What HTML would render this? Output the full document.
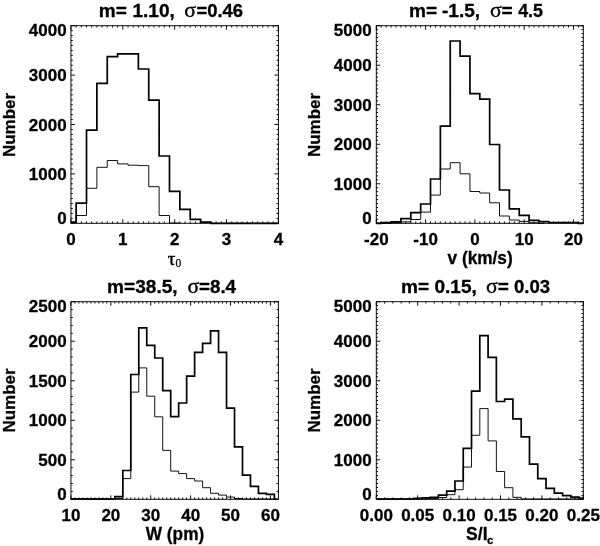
<!DOCTYPE html>
<html>
<head>
<meta charset="utf-8">
<title>Histograms</title>
<style>
html,body{margin:0;padding:0;background:#fff;}
body{width:600px;height:546px;overflow:hidden;font-family:"Liberation Sans",sans-serif;}
svg{display:block;will-change:transform;}
</style>
</head>
<body>
<svg width="600" height="546" viewBox="0 0 600 546">
<rect x="0" y="0" width="600" height="546" fill="#fff"/>
<rect x="70.95" y="25.7" width="207.45" height="197.6" fill="none" stroke="#000" stroke-width="0.95"/>
<path d="M70.95 223.3v-3.95M70.95 25.7v3.95M122.81 223.3v-3.95M122.81 25.7v3.95M174.68 223.3v-3.95M174.68 25.7v3.95M226.54 223.3v-3.95M226.54 25.7v3.95M278.4 223.3v-3.95M278.4 25.7v3.95M76.14 223.3v-1.85M76.14 25.7v1.85M81.32 223.3v-1.85M81.32 25.7v1.85M86.51 223.3v-1.85M86.51 25.7v1.85M91.7 223.3v-1.85M91.7 25.7v1.85M96.88 223.3v-1.85M96.88 25.7v1.85M102.07 223.3v-1.85M102.07 25.7v1.85M107.25 223.3v-1.85M107.25 25.7v1.85M112.44 223.3v-1.85M112.44 25.7v1.85M117.63 223.3v-1.85M117.63 25.7v1.85M128 223.3v-1.85M128 25.7v1.85M133.19 223.3v-1.85M133.19 25.7v1.85M138.37 223.3v-1.85M138.37 25.7v1.85M143.56 223.3v-1.85M143.56 25.7v1.85M148.74 223.3v-1.85M148.74 25.7v1.85M153.93 223.3v-1.85M153.93 25.7v1.85M159.12 223.3v-1.85M159.12 25.7v1.85M164.3 223.3v-1.85M164.3 25.7v1.85M169.49 223.3v-1.85M169.49 25.7v1.85M179.86 223.3v-1.85M179.86 25.7v1.85M185.05 223.3v-1.85M185.05 25.7v1.85M190.23 223.3v-1.85M190.23 25.7v1.85M195.42 223.3v-1.85M195.42 25.7v1.85M200.61 223.3v-1.85M200.61 25.7v1.85M205.79 223.3v-1.85M205.79 25.7v1.85M210.98 223.3v-1.85M210.98 25.7v1.85M216.16 223.3v-1.85M216.16 25.7v1.85M221.35 223.3v-1.85M221.35 25.7v1.85M231.72 223.3v-1.85M231.72 25.7v1.85M236.91 223.3v-1.85M236.91 25.7v1.85M242.1 223.3v-1.85M242.1 25.7v1.85M247.28 223.3v-1.85M247.28 25.7v1.85M252.47 223.3v-1.85M252.47 25.7v1.85M257.65 223.3v-1.85M257.65 25.7v1.85M262.84 223.3v-1.85M262.84 25.7v1.85M268.03 223.3v-1.85M268.03 25.7v1.85M273.21 223.3v-1.85M273.21 25.7v1.85M70.95 223.3h3.95M278.4 223.3h-3.95M70.95 173.9h3.95M278.4 173.9h-3.95M70.95 124.5h3.95M278.4 124.5h-3.95M70.95 75.1h3.95M278.4 75.1h-3.95M70.95 25.7h3.95M278.4 25.7h-3.95M70.95 218.36h1.85M278.4 218.36h-1.85M70.95 213.42h1.85M278.4 213.42h-1.85M70.95 208.48h1.85M278.4 208.48h-1.85M70.95 203.54h1.85M278.4 203.54h-1.85M70.95 198.6h1.85M278.4 198.6h-1.85M70.95 193.66h1.85M278.4 193.66h-1.85M70.95 188.72h1.85M278.4 188.72h-1.85M70.95 183.78h1.85M278.4 183.78h-1.85M70.95 178.84h1.85M278.4 178.84h-1.85M70.95 168.96h1.85M278.4 168.96h-1.85M70.95 164.02h1.85M278.4 164.02h-1.85M70.95 159.08h1.85M278.4 159.08h-1.85M70.95 154.14h1.85M278.4 154.14h-1.85M70.95 149.2h1.85M278.4 149.2h-1.85M70.95 144.26h1.85M278.4 144.26h-1.85M70.95 139.32h1.85M278.4 139.32h-1.85M70.95 134.38h1.85M278.4 134.38h-1.85M70.95 129.44h1.85M278.4 129.44h-1.85M70.95 119.56h1.85M278.4 119.56h-1.85M70.95 114.62h1.85M278.4 114.62h-1.85M70.95 109.68h1.85M278.4 109.68h-1.85M70.95 104.74h1.85M278.4 104.74h-1.85M70.95 99.8h1.85M278.4 99.8h-1.85M70.95 94.86h1.85M278.4 94.86h-1.85M70.95 89.92h1.85M278.4 89.92h-1.85M70.95 84.98h1.85M278.4 84.98h-1.85M70.95 80.04h1.85M278.4 80.04h-1.85M70.95 70.16h1.85M278.4 70.16h-1.85M70.95 65.22h1.85M278.4 65.22h-1.85M70.95 60.28h1.85M278.4 60.28h-1.85M70.95 55.34h1.85M278.4 55.34h-1.85M70.95 50.4h1.85M278.4 50.4h-1.85M70.95 45.46h1.85M278.4 45.46h-1.85M70.95 40.52h1.85M278.4 40.52h-1.85M70.95 35.58h1.85M278.4 35.58h-1.85M70.95 30.64h1.85M278.4 30.64h-1.85" fill="none" stroke="#000" stroke-width="0.95"/>
<path d="M76.14 223.15L76.14 223.15L76.14 215.5L86.51 215.5L86.51 188.3L96.88 188.3L96.88 167.3L107.25 167.3L107.25 160.5L117.63 160.5L117.63 163.9L128 163.9L128 165.2L138.37 165.2L138.37 165.6L148.74 165.6L148.74 186.7L159.12 186.7L159.12 215.5L169.49 215.5L169.49 223L179.86 223" fill="none" stroke="#000" stroke-width="0.93" stroke-linejoin="miter" stroke-linecap="butt"/>
<path d="M70.95 222.2L76.14 222.2L76.14 203.2L86.51 203.2L86.51 130.2L96.88 130.2L96.88 83.3L107.25 83.3L107.25 56.7L117.63 56.7L117.63 53.8L128 53.8L128 53.8L138.37 53.8L138.37 69L148.74 69L148.74 100.2L159.12 100.2L159.12 156L169.49 156L169.49 191.3L179.86 191.3L179.86 209.3L190.23 209.3L190.23 219.3L200.61 219.3L200.61 222.1L210.98 222.1L210.98 223.4L278.4 223.4" fill="none" stroke="#000" stroke-width="1.7" stroke-linejoin="miter" stroke-linecap="butt"/>
<rect x="376.3" y="25.7" width="207" height="197.6" fill="none" stroke="#000" stroke-width="0.95"/>
<path d="M376.3 223.3v-3.95M376.3 25.7v3.95M425.59 223.3v-3.95M425.59 25.7v3.95M474.87 223.3v-3.95M474.87 25.7v3.95M524.16 223.3v-3.95M524.16 25.7v3.95M573.44 223.3v-3.95M573.44 25.7v3.95M381.23 223.3v-1.85M381.23 25.7v1.85M386.16 223.3v-1.85M386.16 25.7v1.85M391.09 223.3v-1.85M391.09 25.7v1.85M396.01 223.3v-1.85M396.01 25.7v1.85M400.94 223.3v-1.85M400.94 25.7v1.85M405.87 223.3v-1.85M405.87 25.7v1.85M410.8 223.3v-1.85M410.8 25.7v1.85M415.73 223.3v-1.85M415.73 25.7v1.85M420.66 223.3v-1.85M420.66 25.7v1.85M430.51 223.3v-1.85M430.51 25.7v1.85M435.44 223.3v-1.85M435.44 25.7v1.85M440.37 223.3v-1.85M440.37 25.7v1.85M445.3 223.3v-1.85M445.3 25.7v1.85M450.23 223.3v-1.85M450.23 25.7v1.85M455.16 223.3v-1.85M455.16 25.7v1.85M460.09 223.3v-1.85M460.09 25.7v1.85M465.01 223.3v-1.85M465.01 25.7v1.85M469.94 223.3v-1.85M469.94 25.7v1.85M479.8 223.3v-1.85M479.8 25.7v1.85M484.73 223.3v-1.85M484.73 25.7v1.85M489.66 223.3v-1.85M489.66 25.7v1.85M494.59 223.3v-1.85M494.59 25.7v1.85M499.51 223.3v-1.85M499.51 25.7v1.85M504.44 223.3v-1.85M504.44 25.7v1.85M509.37 223.3v-1.85M509.37 25.7v1.85M514.3 223.3v-1.85M514.3 25.7v1.85M519.23 223.3v-1.85M519.23 25.7v1.85M529.09 223.3v-1.85M529.09 25.7v1.85M534.01 223.3v-1.85M534.01 25.7v1.85M538.94 223.3v-1.85M538.94 25.7v1.85M543.87 223.3v-1.85M543.87 25.7v1.85M548.8 223.3v-1.85M548.8 25.7v1.85M553.73 223.3v-1.85M553.73 25.7v1.85M558.66 223.3v-1.85M558.66 25.7v1.85M563.59 223.3v-1.85M563.59 25.7v1.85M568.51 223.3v-1.85M568.51 25.7v1.85M578.37 223.3v-1.85M578.37 25.7v1.85M583.3 223.3v-1.85M583.3 25.7v1.85M376.3 223.3h3.95M583.3 223.3h-3.95M376.3 183.78h3.95M583.3 183.78h-3.95M376.3 144.26h3.95M583.3 144.26h-3.95M376.3 104.74h3.95M583.3 104.74h-3.95M376.3 65.22h3.95M583.3 65.22h-3.95M376.3 25.7h3.95M583.3 25.7h-3.95M376.3 219.35h1.85M583.3 219.35h-1.85M376.3 215.4h1.85M583.3 215.4h-1.85M376.3 211.44h1.85M583.3 211.44h-1.85M376.3 207.49h1.85M583.3 207.49h-1.85M376.3 203.54h1.85M583.3 203.54h-1.85M376.3 199.59h1.85M583.3 199.59h-1.85M376.3 195.64h1.85M583.3 195.64h-1.85M376.3 191.68h1.85M583.3 191.68h-1.85M376.3 187.73h1.85M583.3 187.73h-1.85M376.3 179.83h1.85M583.3 179.83h-1.85M376.3 175.88h1.85M583.3 175.88h-1.85M376.3 171.92h1.85M583.3 171.92h-1.85M376.3 167.97h1.85M583.3 167.97h-1.85M376.3 164.02h1.85M583.3 164.02h-1.85M376.3 160.07h1.85M583.3 160.07h-1.85M376.3 156.12h1.85M583.3 156.12h-1.85M376.3 152.16h1.85M583.3 152.16h-1.85M376.3 148.21h1.85M583.3 148.21h-1.85M376.3 140.31h1.85M583.3 140.31h-1.85M376.3 136.36h1.85M583.3 136.36h-1.85M376.3 132.4h1.85M583.3 132.4h-1.85M376.3 128.45h1.85M583.3 128.45h-1.85M376.3 124.5h1.85M583.3 124.5h-1.85M376.3 120.55h1.85M583.3 120.55h-1.85M376.3 116.6h1.85M583.3 116.6h-1.85M376.3 112.64h1.85M583.3 112.64h-1.85M376.3 108.69h1.85M583.3 108.69h-1.85M376.3 100.79h1.85M583.3 100.79h-1.85M376.3 96.84h1.85M583.3 96.84h-1.85M376.3 92.88h1.85M583.3 92.88h-1.85M376.3 88.93h1.85M583.3 88.93h-1.85M376.3 84.98h1.85M583.3 84.98h-1.85M376.3 81.03h1.85M583.3 81.03h-1.85M376.3 77.08h1.85M583.3 77.08h-1.85M376.3 73.12h1.85M583.3 73.12h-1.85M376.3 69.17h1.85M583.3 69.17h-1.85M376.3 61.27h1.85M583.3 61.27h-1.85M376.3 57.32h1.85M583.3 57.32h-1.85M376.3 53.36h1.85M583.3 53.36h-1.85M376.3 49.41h1.85M583.3 49.41h-1.85M376.3 45.46h1.85M583.3 45.46h-1.85M376.3 41.51h1.85M583.3 41.51h-1.85M376.3 37.56h1.85M583.3 37.56h-1.85M376.3 33.6h1.85M583.3 33.6h-1.85M376.3 29.65h1.85M583.3 29.65h-1.85" fill="none" stroke="#000" stroke-width="0.95"/>
<path d="M376.3 223.3L381.23 223.3L381.23 223.3L391.09 223.3L391.09 222.8L400.94 222.8L400.94 221.9L410.8 221.9L410.8 219.5L420.66 219.5L420.66 212.1L430.51 212.1L430.51 195.1L440.37 195.1L440.37 169L450.23 169L450.23 162.7L460.09 162.7L460.09 173.8L469.94 173.8L469.94 191.5L479.8 191.5L479.8 193L489.66 193L489.66 202.8L499.51 202.8L499.51 216L509.37 216L509.37 220L519.23 220L519.23 221.4L529.09 221.4L529.09 222.8L538.94 222.8L538.94 223.3L543.87 223.3" fill="none" stroke="#000" stroke-width="0.93" stroke-linejoin="miter" stroke-linecap="butt"/>
<path d="M376.3 223.3L381.23 223.3L381.23 222.7L391.09 222.7L391.09 221.8L400.94 221.8L400.94 218.7L410.8 218.7L410.8 212.7L420.66 212.7L420.66 204L430.51 204L430.51 179L440.37 179L440.37 126.1L450.23 126.1L450.23 41L460.09 41L460.09 56.2L469.94 56.2L469.94 93.7L479.8 93.7L479.8 99.1L489.66 99.1L489.66 144.5L499.51 144.5L499.51 190L509.37 190L509.37 208.8L519.23 208.8L519.23 215.4L529.09 215.4L529.09 220.3L538.94 220.3L538.94 221.6L548.8 221.6L548.8 222.5L558.66 222.5L558.66 222.5L568.51 222.5L568.51 222.5L578.37 222.5L578.37 223.4L583.3 223.4" fill="none" stroke="#000" stroke-width="1.7" stroke-linejoin="miter" stroke-linecap="butt"/>
<rect x="70.95" y="301.7" width="207.45" height="197.6" fill="none" stroke="#000" stroke-width="0.95"/>
<path d="M70.95 499.3v-3.95M70.95 301.7v3.95M110.84 499.3v-3.95M110.84 301.7v3.95M150.74 499.3v-3.95M150.74 301.7v3.95M190.63 499.3v-3.95M190.63 301.7v3.95M230.53 499.3v-3.95M230.53 301.7v3.95M270.42 499.3v-3.95M270.42 301.7v3.95M74.94 499.3v-1.85M74.94 301.7v1.85M78.93 499.3v-1.85M78.93 301.7v1.85M82.92 499.3v-1.85M82.92 301.7v1.85M86.91 499.3v-1.85M86.91 301.7v1.85M90.9 499.3v-1.85M90.9 301.7v1.85M94.89 499.3v-1.85M94.89 301.7v1.85M98.88 499.3v-1.85M98.88 301.7v1.85M102.87 499.3v-1.85M102.87 301.7v1.85M106.85 499.3v-1.85M106.85 301.7v1.85M114.83 499.3v-1.85M114.83 301.7v1.85M118.82 499.3v-1.85M118.82 301.7v1.85M122.81 499.3v-1.85M122.81 301.7v1.85M126.8 499.3v-1.85M126.8 301.7v1.85M130.79 499.3v-1.85M130.79 301.7v1.85M134.78 499.3v-1.85M134.78 301.7v1.85M138.77 499.3v-1.85M138.77 301.7v1.85M142.76 499.3v-1.85M142.76 301.7v1.85M146.75 499.3v-1.85M146.75 301.7v1.85M154.73 499.3v-1.85M154.73 301.7v1.85M158.72 499.3v-1.85M158.72 301.7v1.85M162.71 499.3v-1.85M162.71 301.7v1.85M166.7 499.3v-1.85M166.7 301.7v1.85M170.69 499.3v-1.85M170.69 301.7v1.85M174.68 499.3v-1.85M174.68 301.7v1.85M178.66 499.3v-1.85M178.66 301.7v1.85M182.65 499.3v-1.85M182.65 301.7v1.85M186.64 499.3v-1.85M186.64 301.7v1.85M194.62 499.3v-1.85M194.62 301.7v1.85M198.61 499.3v-1.85M198.61 301.7v1.85M202.6 499.3v-1.85M202.6 301.7v1.85M206.59 499.3v-1.85M206.59 301.7v1.85M210.58 499.3v-1.85M210.58 301.7v1.85M214.57 499.3v-1.85M214.57 301.7v1.85M218.56 499.3v-1.85M218.56 301.7v1.85M222.55 499.3v-1.85M222.55 301.7v1.85M226.54 499.3v-1.85M226.54 301.7v1.85M234.52 499.3v-1.85M234.52 301.7v1.85M238.51 499.3v-1.85M238.51 301.7v1.85M242.5 499.3v-1.85M242.5 301.7v1.85M246.48 499.3v-1.85M246.48 301.7v1.85M250.47 499.3v-1.85M250.47 301.7v1.85M254.46 499.3v-1.85M254.46 301.7v1.85M258.45 499.3v-1.85M258.45 301.7v1.85M262.44 499.3v-1.85M262.44 301.7v1.85M266.43 499.3v-1.85M266.43 301.7v1.85M274.41 499.3v-1.85M274.41 301.7v1.85M278.4 499.3v-1.85M278.4 301.7v1.85M70.95 499.3h3.95M278.4 499.3h-3.95M70.95 459.78h3.95M278.4 459.78h-3.95M70.95 420.26h3.95M278.4 420.26h-3.95M70.95 380.74h3.95M278.4 380.74h-3.95M70.95 341.22h3.95M278.4 341.22h-3.95M70.95 301.7h3.95M278.4 301.7h-3.95M70.95 491.4h1.85M278.4 491.4h-1.85M70.95 483.49h1.85M278.4 483.49h-1.85M70.95 475.59h1.85M278.4 475.59h-1.85M70.95 467.68h1.85M278.4 467.68h-1.85M70.95 451.88h1.85M278.4 451.88h-1.85M70.95 443.97h1.85M278.4 443.97h-1.85M70.95 436.07h1.85M278.4 436.07h-1.85M70.95 428.16h1.85M278.4 428.16h-1.85M70.95 412.36h1.85M278.4 412.36h-1.85M70.95 404.45h1.85M278.4 404.45h-1.85M70.95 396.55h1.85M278.4 396.55h-1.85M70.95 388.64h1.85M278.4 388.64h-1.85M70.95 372.84h1.85M278.4 372.84h-1.85M70.95 364.93h1.85M278.4 364.93h-1.85M70.95 357.03h1.85M278.4 357.03h-1.85M70.95 349.12h1.85M278.4 349.12h-1.85M70.95 333.32h1.85M278.4 333.32h-1.85M70.95 325.41h1.85M278.4 325.41h-1.85M70.95 317.51h1.85M278.4 317.51h-1.85M70.95 309.6h1.85M278.4 309.6h-1.85" fill="none" stroke="#000" stroke-width="0.95"/>
<path d="M70.95 499L114.83 499L114.83 498.5L122.81 498.5L122.81 478.6L130.79 478.6L130.79 392.1L138.77 392.1L138.77 367.9L146.75 367.9L146.75 396.2L154.73 396.2L154.73 416.8L162.71 416.8L162.71 450.4L170.69 450.4L170.69 471.1L178.66 471.1L178.66 473.6L186.64 473.6L186.64 478.6L194.62 478.6L194.62 481L202.6 481L202.6 487.7L210.58 487.7L210.58 493.3L218.56 493.3L218.56 495.1L226.54 495.1L226.54 497.1L234.52 497.1L234.52 498.5L242.5 498.5L242.5 499L250.47 499L250.47 499L258.45 499L258.45 499L266.43 499L266.43 499L274.41 499L274.41 499L276.41 499" fill="none" stroke="#000" stroke-width="0.93" stroke-linejoin="miter" stroke-linecap="butt"/>
<path d="M70.95 499L114.83 499L114.83 496.6L122.81 496.6L122.81 470.5L130.79 470.5L130.79 374.5L138.77 374.5L138.77 327.8L146.75 327.8L146.75 345.3L154.73 345.3L154.73 358L162.71 358L162.71 390.7L170.69 390.7L170.69 416.6L178.66 416.6L178.66 403L186.64 403L186.64 376.1L194.62 376.1L194.62 352.4L202.6 352.4L202.6 343.3L210.58 343.3L210.58 330.8L218.56 330.8L218.56 352.4L226.54 352.4L226.54 408.2L234.52 408.2L234.52 446.8L242.5 446.8L242.5 475.2L250.47 475.2L250.47 486.3L258.45 486.3L258.45 493.3L266.43 493.3L266.43 494.3L274.41 494.3L274.41 499L276.41 499" fill="none" stroke="#000" stroke-width="1.7" stroke-linejoin="miter" stroke-linecap="butt"/>
<rect x="376.3" y="301.7" width="207" height="197.6" fill="none" stroke="#000" stroke-width="0.95"/>
<path d="M376.3 499.3v-3.95M376.3 301.7v3.95M417.7 499.3v-3.95M417.7 301.7v3.95M459.1 499.3v-3.95M459.1 301.7v3.95M500.5 499.3v-3.95M500.5 301.7v3.95M541.9 499.3v-3.95M541.9 301.7v3.95M583.3 499.3v-3.95M583.3 301.7v3.95M384.58 499.3v-1.85M384.58 301.7v1.85M392.86 499.3v-1.85M392.86 301.7v1.85M401.14 499.3v-1.85M401.14 301.7v1.85M409.42 499.3v-1.85M409.42 301.7v1.85M425.98 499.3v-1.85M425.98 301.7v1.85M434.26 499.3v-1.85M434.26 301.7v1.85M442.54 499.3v-1.85M442.54 301.7v1.85M450.82 499.3v-1.85M450.82 301.7v1.85M467.38 499.3v-1.85M467.38 301.7v1.85M475.66 499.3v-1.85M475.66 301.7v1.85M483.94 499.3v-1.85M483.94 301.7v1.85M492.22 499.3v-1.85M492.22 301.7v1.85M508.78 499.3v-1.85M508.78 301.7v1.85M517.06 499.3v-1.85M517.06 301.7v1.85M525.34 499.3v-1.85M525.34 301.7v1.85M533.62 499.3v-1.85M533.62 301.7v1.85M550.18 499.3v-1.85M550.18 301.7v1.85M558.46 499.3v-1.85M558.46 301.7v1.85M566.74 499.3v-1.85M566.74 301.7v1.85M575.02 499.3v-1.85M575.02 301.7v1.85M376.3 499.3h3.95M583.3 499.3h-3.95M376.3 459.78h3.95M583.3 459.78h-3.95M376.3 420.26h3.95M583.3 420.26h-3.95M376.3 380.74h3.95M583.3 380.74h-3.95M376.3 341.22h3.95M583.3 341.22h-3.95M376.3 301.7h3.95M583.3 301.7h-3.95M376.3 495.35h1.85M583.3 495.35h-1.85M376.3 491.4h1.85M583.3 491.4h-1.85M376.3 487.44h1.85M583.3 487.44h-1.85M376.3 483.49h1.85M583.3 483.49h-1.85M376.3 479.54h1.85M583.3 479.54h-1.85M376.3 475.59h1.85M583.3 475.59h-1.85M376.3 471.64h1.85M583.3 471.64h-1.85M376.3 467.68h1.85M583.3 467.68h-1.85M376.3 463.73h1.85M583.3 463.73h-1.85M376.3 455.83h1.85M583.3 455.83h-1.85M376.3 451.88h1.85M583.3 451.88h-1.85M376.3 447.92h1.85M583.3 447.92h-1.85M376.3 443.97h1.85M583.3 443.97h-1.85M376.3 440.02h1.85M583.3 440.02h-1.85M376.3 436.07h1.85M583.3 436.07h-1.85M376.3 432.12h1.85M583.3 432.12h-1.85M376.3 428.16h1.85M583.3 428.16h-1.85M376.3 424.21h1.85M583.3 424.21h-1.85M376.3 416.31h1.85M583.3 416.31h-1.85M376.3 412.36h1.85M583.3 412.36h-1.85M376.3 408.4h1.85M583.3 408.4h-1.85M376.3 404.45h1.85M583.3 404.45h-1.85M376.3 400.5h1.85M583.3 400.5h-1.85M376.3 396.55h1.85M583.3 396.55h-1.85M376.3 392.6h1.85M583.3 392.6h-1.85M376.3 388.64h1.85M583.3 388.64h-1.85M376.3 384.69h1.85M583.3 384.69h-1.85M376.3 376.79h1.85M583.3 376.79h-1.85M376.3 372.84h1.85M583.3 372.84h-1.85M376.3 368.88h1.85M583.3 368.88h-1.85M376.3 364.93h1.85M583.3 364.93h-1.85M376.3 360.98h1.85M583.3 360.98h-1.85M376.3 357.03h1.85M583.3 357.03h-1.85M376.3 353.08h1.85M583.3 353.08h-1.85M376.3 349.12h1.85M583.3 349.12h-1.85M376.3 345.17h1.85M583.3 345.17h-1.85M376.3 337.27h1.85M583.3 337.27h-1.85M376.3 333.32h1.85M583.3 333.32h-1.85M376.3 329.36h1.85M583.3 329.36h-1.85M376.3 325.41h1.85M583.3 325.41h-1.85M376.3 321.46h1.85M583.3 321.46h-1.85M376.3 317.51h1.85M583.3 317.51h-1.85M376.3 313.56h1.85M583.3 313.56h-1.85M376.3 309.6h1.85M583.3 309.6h-1.85M376.3 305.65h1.85M583.3 305.65h-1.85" fill="none" stroke="#000" stroke-width="0.95"/>
<path d="M376.3 499L413.56 499L413.56 499L421.84 499L421.84 499L430.12 499L430.12 498.6L438.4 498.6L438.4 497.5L446.68 497.5L446.68 494.7L454.96 494.7L454.96 489.7L463.24 489.7L463.24 467.1L471.52 467.1L471.52 435.3L479.8 435.3L479.8 408.6L488.08 408.6L488.08 440.9L496.36 440.9L496.36 471.5L504.64 471.5L504.64 487.7L512.92 487.7L512.92 497.3L521.2 497.3L521.2 499L529.48 499L529.48 499L537.76 499L537.76 499L546.04 499L546.04 499L554.32 499L554.32 499L562.6 499L562.6 499L570.88 499L570.88 499L579.16 499L579.16 499L583.3 499" fill="none" stroke="#000" stroke-width="0.93" stroke-linejoin="miter" stroke-linecap="butt"/>
<path d="M376.3 499L413.56 499L413.56 498.4L421.84 498.4L421.84 497.8L430.12 497.8L430.12 497.3L438.4 497.3L438.4 495.1L446.68 495.1L446.68 491.1L454.96 491.1L454.96 481L463.24 481L463.24 448.4L471.52 448.4L471.52 391.1L479.8 391.1L479.8 335.7L488.08 335.7L488.08 357.4L496.36 357.4L496.36 401.5L504.64 401.5L504.64 399.2L512.92 399.2L512.92 418.8L521.2 418.8L521.2 436.9L529.48 436.9L529.48 464.1L537.76 464.1L537.76 478.6L546.04 478.6L546.04 488.3L554.32 488.3L554.32 493.1L562.6 493.1L562.6 495.7L570.88 495.7L570.88 497.1L579.16 497.1L579.16 498L583.3 498" fill="none" stroke="#000" stroke-width="1.7" stroke-linejoin="miter" stroke-linecap="butt"/>
<text transform="translate(66.6 223.5) scale(1.0000 1)" font-size="17" text-anchor="end" font-weight="bold" font-family="Liberation Sans, sans-serif" stroke="#000" stroke-width="0.3" stroke-linejoin="round">0</text>
<text transform="translate(66.6 179.9) scale(1.0000 1)" font-size="17" text-anchor="end" font-weight="bold" font-family="Liberation Sans, sans-serif" stroke="#000" stroke-width="0.3" stroke-linejoin="round">1000</text>
<text transform="translate(66.6 130.5) scale(1.0000 1)" font-size="17" text-anchor="end" font-weight="bold" font-family="Liberation Sans, sans-serif" stroke="#000" stroke-width="0.3" stroke-linejoin="round">2000</text>
<text transform="translate(66.6 81.1) scale(1.0000 1)" font-size="17" text-anchor="end" font-weight="bold" font-family="Liberation Sans, sans-serif" stroke="#000" stroke-width="0.3" stroke-linejoin="round">3000</text>
<text transform="translate(66.6 35.6) scale(1.0000 1)" font-size="17" text-anchor="end" font-weight="bold" font-family="Liberation Sans, sans-serif" stroke="#000" stroke-width="0.3" stroke-linejoin="round">4000</text>
<text transform="translate(371.7 223.5) scale(1.0000 1)" font-size="17" text-anchor="end" font-weight="bold" font-family="Liberation Sans, sans-serif" stroke="#000" stroke-width="0.3" stroke-linejoin="round">0</text>
<text transform="translate(371.7 189.78) scale(1.0000 1)" font-size="17" text-anchor="end" font-weight="bold" font-family="Liberation Sans, sans-serif" stroke="#000" stroke-width="0.3" stroke-linejoin="round">1000</text>
<text transform="translate(371.7 150.26) scale(1.0000 1)" font-size="17" text-anchor="end" font-weight="bold" font-family="Liberation Sans, sans-serif" stroke="#000" stroke-width="0.3" stroke-linejoin="round">2000</text>
<text transform="translate(371.7 110.74) scale(1.0000 1)" font-size="17" text-anchor="end" font-weight="bold" font-family="Liberation Sans, sans-serif" stroke="#000" stroke-width="0.3" stroke-linejoin="round">3000</text>
<text transform="translate(371.7 71.22) scale(1.0000 1)" font-size="17" text-anchor="end" font-weight="bold" font-family="Liberation Sans, sans-serif" stroke="#000" stroke-width="0.3" stroke-linejoin="round">4000</text>
<text transform="translate(371.7 35.6) scale(1.0000 1)" font-size="17" text-anchor="end" font-weight="bold" font-family="Liberation Sans, sans-serif" stroke="#000" stroke-width="0.3" stroke-linejoin="round">5000</text>
<text transform="translate(66.6 499.5) scale(1.0000 1)" font-size="17" text-anchor="end" font-weight="bold" font-family="Liberation Sans, sans-serif" stroke="#000" stroke-width="0.3" stroke-linejoin="round">0</text>
<text transform="translate(66.6 465.78) scale(1.0000 1)" font-size="17" text-anchor="end" font-weight="bold" font-family="Liberation Sans, sans-serif" stroke="#000" stroke-width="0.3" stroke-linejoin="round">500</text>
<text transform="translate(66.6 426.26) scale(1.0000 1)" font-size="17" text-anchor="end" font-weight="bold" font-family="Liberation Sans, sans-serif" stroke="#000" stroke-width="0.3" stroke-linejoin="round">1000</text>
<text transform="translate(66.6 386.74) scale(1.0000 1)" font-size="17" text-anchor="end" font-weight="bold" font-family="Liberation Sans, sans-serif" stroke="#000" stroke-width="0.3" stroke-linejoin="round">1500</text>
<text transform="translate(66.6 347.22) scale(1.0000 1)" font-size="17" text-anchor="end" font-weight="bold" font-family="Liberation Sans, sans-serif" stroke="#000" stroke-width="0.3" stroke-linejoin="round">2000</text>
<text transform="translate(66.6 311.6) scale(1.0000 1)" font-size="17" text-anchor="end" font-weight="bold" font-family="Liberation Sans, sans-serif" stroke="#000" stroke-width="0.3" stroke-linejoin="round">2500</text>
<text transform="translate(371.7 499.5) scale(1.0000 1)" font-size="17" text-anchor="end" font-weight="bold" font-family="Liberation Sans, sans-serif" stroke="#000" stroke-width="0.3" stroke-linejoin="round">0</text>
<text transform="translate(371.7 465.78) scale(1.0000 1)" font-size="17" text-anchor="end" font-weight="bold" font-family="Liberation Sans, sans-serif" stroke="#000" stroke-width="0.3" stroke-linejoin="round">1000</text>
<text transform="translate(371.7 426.26) scale(1.0000 1)" font-size="17" text-anchor="end" font-weight="bold" font-family="Liberation Sans, sans-serif" stroke="#000" stroke-width="0.3" stroke-linejoin="round">2000</text>
<text transform="translate(371.7 386.74) scale(1.0000 1)" font-size="17" text-anchor="end" font-weight="bold" font-family="Liberation Sans, sans-serif" stroke="#000" stroke-width="0.3" stroke-linejoin="round">3000</text>
<text transform="translate(371.7 347.22) scale(1.0000 1)" font-size="17" text-anchor="end" font-weight="bold" font-family="Liberation Sans, sans-serif" stroke="#000" stroke-width="0.3" stroke-linejoin="round">4000</text>
<text transform="translate(371.7 311.6) scale(1.0000 1)" font-size="17" text-anchor="end" font-weight="bold" font-family="Liberation Sans, sans-serif" stroke="#000" stroke-width="0.3" stroke-linejoin="round">5000</text>
<text transform="translate(70.95 244.5) scale(1.0000 1)" font-size="17" text-anchor="middle" font-weight="bold" font-family="Liberation Sans, sans-serif" stroke="#000" stroke-width="0.3" stroke-linejoin="round">0</text>
<text transform="translate(122.81 244.5) scale(1.0000 1)" font-size="17" text-anchor="middle" font-weight="bold" font-family="Liberation Sans, sans-serif" stroke="#000" stroke-width="0.3" stroke-linejoin="round">1</text>
<text transform="translate(174.68 244.5) scale(1.0000 1)" font-size="17" text-anchor="middle" font-weight="bold" font-family="Liberation Sans, sans-serif" stroke="#000" stroke-width="0.3" stroke-linejoin="round">2</text>
<text transform="translate(226.54 244.5) scale(1.0000 1)" font-size="17" text-anchor="middle" font-weight="bold" font-family="Liberation Sans, sans-serif" stroke="#000" stroke-width="0.3" stroke-linejoin="round">3</text>
<text transform="translate(278.4 244.5) scale(1.0000 1)" font-size="17" text-anchor="middle" font-weight="bold" font-family="Liberation Sans, sans-serif" stroke="#000" stroke-width="0.3" stroke-linejoin="round">4</text>
<text transform="translate(376.3 244.5) scale(1.0000 1)" font-size="17" text-anchor="middle" font-weight="bold" font-family="Liberation Sans, sans-serif" stroke="#000" stroke-width="0.3" stroke-linejoin="round">-20</text>
<text transform="translate(425.59 244.5) scale(1.0000 1)" font-size="17" text-anchor="middle" font-weight="bold" font-family="Liberation Sans, sans-serif" stroke="#000" stroke-width="0.3" stroke-linejoin="round">-10</text>
<text transform="translate(474.87 244.5) scale(1.0000 1)" font-size="17" text-anchor="middle" font-weight="bold" font-family="Liberation Sans, sans-serif" stroke="#000" stroke-width="0.3" stroke-linejoin="round">0</text>
<text transform="translate(524.16 244.5) scale(1.0000 1)" font-size="17" text-anchor="middle" font-weight="bold" font-family="Liberation Sans, sans-serif" stroke="#000" stroke-width="0.3" stroke-linejoin="round">10</text>
<text transform="translate(573.44 244.5) scale(1.0000 1)" font-size="17" text-anchor="middle" font-weight="bold" font-family="Liberation Sans, sans-serif" stroke="#000" stroke-width="0.3" stroke-linejoin="round">20</text>
<text transform="translate(70.95 520.6) scale(1.0000 1)" font-size="17" text-anchor="middle" font-weight="bold" font-family="Liberation Sans, sans-serif" stroke="#000" stroke-width="0.3" stroke-linejoin="round">10</text>
<text transform="translate(110.84 520.6) scale(1.0000 1)" font-size="17" text-anchor="middle" font-weight="bold" font-family="Liberation Sans, sans-serif" stroke="#000" stroke-width="0.3" stroke-linejoin="round">20</text>
<text transform="translate(150.74 520.6) scale(1.0000 1)" font-size="17" text-anchor="middle" font-weight="bold" font-family="Liberation Sans, sans-serif" stroke="#000" stroke-width="0.3" stroke-linejoin="round">30</text>
<text transform="translate(190.63 520.6) scale(1.0000 1)" font-size="17" text-anchor="middle" font-weight="bold" font-family="Liberation Sans, sans-serif" stroke="#000" stroke-width="0.3" stroke-linejoin="round">40</text>
<text transform="translate(230.53 520.6) scale(1.0000 1)" font-size="17" text-anchor="middle" font-weight="bold" font-family="Liberation Sans, sans-serif" stroke="#000" stroke-width="0.3" stroke-linejoin="round">50</text>
<text transform="translate(270.42 520.6) scale(1.0000 1)" font-size="17" text-anchor="middle" font-weight="bold" font-family="Liberation Sans, sans-serif" stroke="#000" stroke-width="0.3" stroke-linejoin="round">60</text>
<text transform="translate(376.3 520.6) scale(1.0000 1)" font-size="17" text-anchor="middle" font-weight="bold" font-family="Liberation Sans, sans-serif" stroke="#000" stroke-width="0.3" stroke-linejoin="round">0.00</text>
<text transform="translate(417.7 520.6) scale(1.0000 1)" font-size="17" text-anchor="middle" font-weight="bold" font-family="Liberation Sans, sans-serif" stroke="#000" stroke-width="0.3" stroke-linejoin="round">0.05</text>
<text transform="translate(459.1 520.6) scale(1.0000 1)" font-size="17" text-anchor="middle" font-weight="bold" font-family="Liberation Sans, sans-serif" stroke="#000" stroke-width="0.3" stroke-linejoin="round">0.10</text>
<text transform="translate(500.5 520.6) scale(1.0000 1)" font-size="17" text-anchor="middle" font-weight="bold" font-family="Liberation Sans, sans-serif" stroke="#000" stroke-width="0.3" stroke-linejoin="round">0.15</text>
<text transform="translate(541.9 520.6) scale(1.0000 1)" font-size="17" text-anchor="middle" font-weight="bold" font-family="Liberation Sans, sans-serif" stroke="#000" stroke-width="0.3" stroke-linejoin="round">0.20</text>
<text transform="translate(583.3 520.6) scale(1.0000 1)" font-size="17" text-anchor="middle" font-weight="bold" font-family="Liberation Sans, sans-serif" stroke="#000" stroke-width="0.3" stroke-linejoin="round">0.25</text>
<text transform="translate(167.8 264.5) scale(1.0000 1)" font-size="19" text-anchor="start" font-weight="normal" font-family="Liberation Serif, serif" stroke="#000" stroke-width="0.45" stroke-linejoin="round">&#964;</text>
<text transform="translate(175.6 267.2) scale(1.0000 1)" font-size="11.5" text-anchor="start" font-weight="normal" font-family="Liberation Serif, serif" stroke="#000" stroke-width="0.25" stroke-linejoin="round">0</text>
<text transform="translate(480.1 263.8) scale(0.9750 1)" font-size="17.7" text-anchor="middle" font-weight="bold" font-family="Liberation Sans, sans-serif" stroke="#000" stroke-width="0.3" stroke-linejoin="round">v (km/s)</text>
<text transform="translate(175 539.5) scale(0.9750 1)" font-size="17.7" text-anchor="middle" font-weight="bold" font-family="Liberation Sans, sans-serif" stroke="#000" stroke-width="0.3" stroke-linejoin="round">W (pm)</text>
<text transform="translate(466.1 539.6) scale(0.9900 1)" font-size="17.7" text-anchor="start" font-weight="bold" font-family="Liberation Sans, sans-serif" stroke="#000" stroke-width="0.3" stroke-linejoin="round">S/I</text>
<text transform="translate(486.9 543.7) scale(1.0000 1)" font-size="11.5" text-anchor="start" font-weight="bold" font-family="Liberation Sans, sans-serif" stroke="#000" stroke-width="0.3" stroke-linejoin="round">c</text>
<text transform="translate(15 125) rotate(-90)" font-size="17" text-anchor="middle" font-weight="bold" font-family="Liberation Sans, sans-serif" stroke="#000" stroke-width="0.3" stroke-linejoin="round">Number</text>
<text transform="translate(319.9 125) rotate(-90)" font-size="17" text-anchor="middle" font-weight="bold" font-family="Liberation Sans, sans-serif" stroke="#000" stroke-width="0.3" stroke-linejoin="round">Number</text>
<text transform="translate(15 400.5) rotate(-90)" font-size="17" text-anchor="middle" font-weight="bold" font-family="Liberation Sans, sans-serif" stroke="#000" stroke-width="0.3" stroke-linejoin="round">Number</text>
<text transform="translate(319.9 400.5) rotate(-90)" font-size="17" text-anchor="middle" font-weight="bold" font-family="Liberation Sans, sans-serif" stroke="#000" stroke-width="0.3" stroke-linejoin="round">Number</text>
<text transform="translate(98.8 16.9) scale(1.0600 1)" font-size="18" text-anchor="start" font-weight="bold" font-family="Liberation Sans, sans-serif" stroke="#000" stroke-width="0.3" stroke-linejoin="round">m=</text>
<text transform="translate(132.4 16.9) scale(1.0600 1)" font-size="18" text-anchor="start" font-weight="bold" font-family="Liberation Sans, sans-serif" stroke="#000" stroke-width="0.3" stroke-linejoin="round">1.10,</text>
<text transform="translate(184.3 16.9) scale(1.0600 1)" font-size="20.5" text-anchor="start" font-weight="normal" font-family="Liberation Serif, serif" stroke="#000" stroke-width="0.35" stroke-linejoin="round">&#963;</text>
<text transform="translate(196.4 16.9) scale(1.0260 1)" font-size="18" text-anchor="start" font-weight="bold" font-family="Liberation Sans, sans-serif" stroke="#000" stroke-width="0.3" stroke-linejoin="round">=0.46</text>
<text transform="translate(409 16.9) scale(1.0600 1)" font-size="18" text-anchor="start" font-weight="bold" font-family="Liberation Sans, sans-serif" stroke="#000" stroke-width="0.3" stroke-linejoin="round">m=</text>
<text transform="translate(442 16.9) scale(1.0600 1)" font-size="18" text-anchor="start" font-weight="bold" font-family="Liberation Sans, sans-serif" stroke="#000" stroke-width="0.3" stroke-linejoin="round">-1.5,</text>
<text transform="translate(490 16.9) scale(1.0600 1)" font-size="20.5" text-anchor="start" font-weight="normal" font-family="Liberation Serif, serif" stroke="#000" stroke-width="0.35" stroke-linejoin="round">&#963;</text>
<text transform="translate(501.5 16.9) scale(1.0600 1)" font-size="18" text-anchor="start" font-weight="bold" font-family="Liberation Sans, sans-serif" stroke="#000" stroke-width="0.3" stroke-linejoin="round">=</text>
<text transform="translate(518.2 16.9) scale(0.9900 1)" font-size="18" text-anchor="start" font-weight="bold" font-family="Liberation Sans, sans-serif" stroke="#000" stroke-width="0.3" stroke-linejoin="round">4.5</text>
<text transform="translate(107.1 292.9) scale(1.0600 1)" font-size="18" text-anchor="start" font-weight="bold" font-family="Liberation Sans, sans-serif" stroke="#000" stroke-width="0.3" stroke-linejoin="round">m=38.5,</text>
<text transform="translate(187.6 292.9) scale(1.0600 1)" font-size="20.5" text-anchor="start" font-weight="normal" font-family="Liberation Serif, serif" stroke="#000" stroke-width="0.35" stroke-linejoin="round">&#963;</text>
<text transform="translate(199 292.9) scale(1.0430 1)" font-size="18" text-anchor="start" font-weight="bold" font-family="Liberation Sans, sans-serif" stroke="#000" stroke-width="0.3" stroke-linejoin="round">=8.4</text>
<text transform="translate(401 292.9) scale(1.0600 1)" font-size="18" text-anchor="start" font-weight="bold" font-family="Liberation Sans, sans-serif" stroke="#000" stroke-width="0.3" stroke-linejoin="round">m=</text>
<text transform="translate(434.4 292.9) scale(1.0600 1)" font-size="18" text-anchor="start" font-weight="bold" font-family="Liberation Sans, sans-serif" stroke="#000" stroke-width="0.3" stroke-linejoin="round">0.15,</text>
<text transform="translate(485.9 292.9) scale(1.0600 1)" font-size="20.5" text-anchor="start" font-weight="normal" font-family="Liberation Serif, serif" stroke="#000" stroke-width="0.35" stroke-linejoin="round">&#963;</text>
<text transform="translate(497.7 292.9) scale(1.0600 1)" font-size="18" text-anchor="start" font-weight="bold" font-family="Liberation Sans, sans-serif" stroke="#000" stroke-width="0.3" stroke-linejoin="round">=</text>
<text transform="translate(514 292.9) scale(1.0300 1)" font-size="18" text-anchor="start" font-weight="bold" font-family="Liberation Sans, sans-serif" stroke="#000" stroke-width="0.3" stroke-linejoin="round">0.03</text>
</svg>
</body>
</html>
